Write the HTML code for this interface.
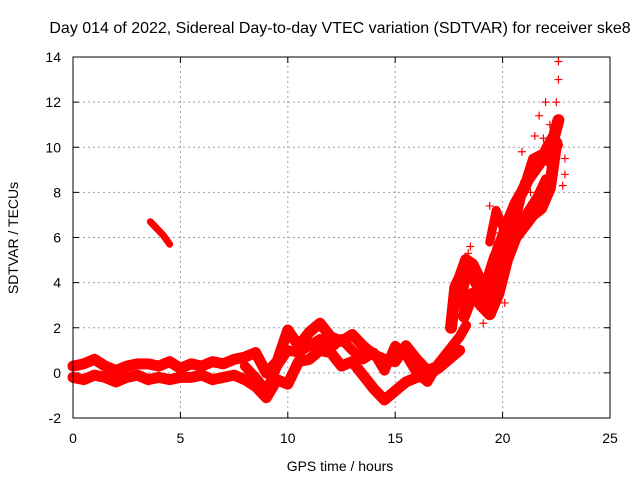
<!DOCTYPE html>
<html><head><meta charset="utf-8"><style>
body{margin:0;background:#fff}
svg{display:block;font-family:"Liberation Sans",sans-serif}
</style></head><body>
<svg id="chart" width="640" height="480" viewBox="0 0 640 480"></svg>
<script>
const xTicks=[0,5,10,15,20,25];
const yTicks=[-2,0,2,4,6,8,10,12,14];
// upper band
const tA=[0,0.5,1,1.5,2,2.5,3,3.5,4,4.5,5,5.5,6,6.5,7,7.5,8,8.5,9,9.5,10,10.5,11,11.5,12,12.5,13,13.5,14,14.5,15,15.5,16,16.5,17,17.5];
const vA=[0.3,0.4,0.6,0.3,0.1,0.3,0.4,0.4,0.3,0.5,0.2,0.4,0.3,0.5,0.4,0.6,0.7,0.9,0.0,0.5,1.9,1.2,1.8,2.2,1.6,1.4,1.7,1.2,0.8,0.6,0.5,1.2,0.6,0.1,0.3,0.8];
// lower band
const tB=[0,0.5,1,1.5,2,2.5,3,3.5,4,4.5,5,5.5,6,6.5,7,7.5,8,8.5,9,9.5,10,10.5,11,11.5,12,12.5,13,13.5,14,14.5,15,15.5,16,16.5,17,17.5,18];
const vB=[-0.2,-0.3,-0.1,-0.2,-0.4,-0.2,-0.1,-0.3,-0.2,-0.3,-0.2,-0.2,-0.1,-0.3,-0.2,-0.1,-0.3,-0.6,-1.1,-0.3,-0.5,0.5,0.6,1.0,0.9,0.3,0.5,-0.1,-0.7,-1.2,-0.8,-0.4,-0.2,-0.1,0.2,0.6,1.0];
// mid wander band
const tC=[8,8.5,9,9.5,10,10.5,11,11.5,12,12.5,13,13.5,14,14.5,15,15.5,16,16.5,17,17.5,18,18.3];
const vC=[0.3,-0.2,-0.8,0.3,1.0,0.9,1.2,1.5,1.1,1.5,1.0,0.6,0.9,0.1,1.2,0.8,0.0,-0.4,0.4,1.0,1.6,2.1];
// isolated segment
const tD=[3.6,3.9,4.2,4.5];
const vD=[6.7,6.4,6.1,5.7];
// rising scattered traces
const tE=[17.6,17.8,18.0,18.3,18.6,18.9,19.2,19.5,19.8,20.0,20.3,20.6,20.9,21.2,21.5,21.8,22.1,22.4,22.6];
const vE=[2.0,3.8,4.2,5.0,4.8,4.2,3.2,4.6,5.5,6.0,6.8,7.5,8.0,8.6,9.0,9.4,10.0,10.5,11.2];
const tF=[18.2,18.6,19.0,19.4,19.8,20.2,20.6,21.0,21.4,21.8,22.2,22.5];
const vF=[2.5,3.5,3.0,2.6,3.5,5.0,6.0,6.5,7.0,7.3,8.2,10.2];
const tG=[19.4,19.7,20.0,20.3,20.6,21.0,21.4,21.8,22.2,22.6];
const vG=[5.8,7.2,6.5,5.5,6.7,8.3,9.5,9.7,9.3,10.1];
const tH=[17.7,18.0,18.4,18.8,19.2,19.6,20.0,20.4,20.8,21.2,21.6,22.0];
const vH=[3.2,3.0,4.5,3.8,4.0,5.2,4.0,5.8,6.5,7.2,7.8,8.6];
const tP=[17.9,18.4,19.0,19.4,19.8,20.4,21.0,21.5,21.7,22.0,22.3,22.5,22.6,22.6,22.6,22.9,22.9,22.8,18.0,18.5,19.1,19.6,20.1,20.5,20.9,21.3,21.9,22.2];
const vP=[3.0,5.3,3.2,7.4,4.2,6.8,8.5,10.5,11.4,12.0,10.2,12.0,13.0,13.8,11.0,9.5,8.8,8.3,2.6,5.6,2.2,6.2,3.1,7.5,9.8,8.0,10.4,11.0];

const svg=document.getElementById('chart');const NS='http://www.w3.org/2000/svg';
const X0=73,X1=610,Y0=418,Y1=57;
const xs=t=>X0+t/25*(X1-X0);
const ys=v=>Y0-(v+2)/16*(Y0-Y1);
function el(tag,attrs,txt){const e=document.createElementNS(NS,tag);for(const k in attrs)e.setAttribute(k,attrs[k]);if(txt!==undefined)e.textContent=txt;svg.appendChild(e);return e;}
xTicks.forEach(t=>{
 if(t>0&&t<25){const g=el('line',{x1:xs(t),x2:xs(t),y1:Y0,y2:Y1,stroke:'#a0a0a0','stroke-dasharray':'2,3'});
 
 }
 el('line',{x1:xs(t),x2:xs(t),y1:Y0,y2:Y0-6,stroke:'#000'});
 el('line',{x1:xs(t),x2:xs(t),y1:Y1,y2:Y1+6,stroke:'#000'});
 const l=el('text',{x:xs(t),y:443,'text-anchor':'middle','font-size':14},String(t));
 
 
});
yTicks.forEach(v=>{
 if(v>-2&&v<14){const g=el('line',{x1:X0,x2:X1,y1:ys(v),y2:ys(v),stroke:'#a0a0a0','stroke-dasharray':'2,3'});
 
 }
 el('line',{x1:X0,x2:X0+6,y1:ys(v),y2:ys(v),stroke:'#000'});
 el('line',{x1:X1,x2:X1-6,y1:ys(v),y2:ys(v),stroke:'#000'});
 const l=el('text',{x:X0-12,y:ys(v)+5,'text-anchor':'end','font-size':14},String(v));
 
 
});
function band(ts,vs,w,name){
 const p=el('polyline',{points:ts.map((t,i)=>xs(t)+','+ys(vs[i])).join(' '),fill:'none',stroke:'#f00','stroke-width':w,'stroke-linejoin':'round','stroke-linecap':'round'});
 
 
}
band(tA,vA,11,'series-upper-band');
band(tB,vB,11,'series-lower-band');
band(tC,vC,10,'series-mid-band');
band(tD,vD,7,'series-isolated-segment');
band(tE,vE,12,'series-rise-a');
band(tF,vF,12,'series-rise-b');
band(tG,vG,9,'series-rise-c');
band(tH,vH,9,'series-rise-d');
tP.forEach((t,i)=>{
 const x=xs(t),y=ys(vP[i]);
 const p=el('path',{d:`M${x-4},${y}H${x+4}M${x},${y-4}V${y+4}`,stroke:'#f00','stroke-width':1.2});
 
 
});
const fr=el('rect',{x:X0,y:Y1,width:X1-X0,height:Y0-Y1,fill:'none',stroke:'#000'});


const ti=el('text',{x:340,y:33,'text-anchor':'middle','font-size':16},'Day 014 of 2022, Sidereal Day-to-day VTEC variation (SDTVAR) for receiver ske8');


const xt=el('text',{x:340,y:471,'text-anchor':'middle','font-size':14},'GPS time / hours');


const yt=el('text',{x:0,y:0,'text-anchor':'middle','font-size':14,transform:'translate(18,238) rotate(-90)'},'SDTVAR / TECUs');


</script>
</body></html>
